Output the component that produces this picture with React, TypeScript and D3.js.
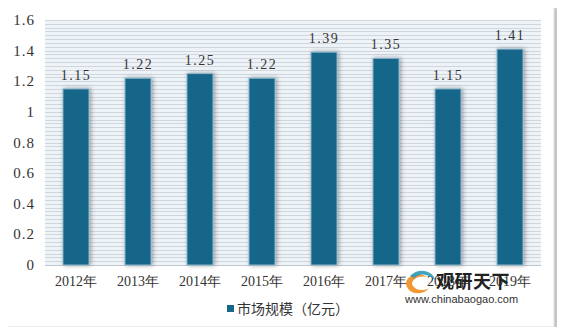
import { useEffect, useRef } from 'react';
import * as d3 from 'd3';

const years = ['2012年', '2013年', '2014年', '2015年', '2016年', '2017年', '2018年', '2019年'];
const marketSize = [1.15, 1.22, 1.25, 1.22, 1.39, 1.35, 1.15, 1.41];
const yTicks = [0, 0.2, 0.4, 0.6, 0.8, 1, 1.2, 1.4, 1.6];
const seriesName = '市场规模（亿元）';

const W = 565;
const H = 335;
const BAR = '#18668a';
const SERIF = '"Liberation Serif", "DejaVu Serif", serif';
const CJK = '"Noto Sans CJK SC", "Noto Sans", sans-serif';

export default function App() {
  const ref = useRef<SVGSVGElement>(null);

  useEffect(() => {
    if (!ref.current) return;
    const svg = d3.select(ref.current);
    svg.selectAll('*').remove();

    const defs = svg.append('defs');
    const sh = defs.append('filter').attr('id', 'panelShadow').attr('x', '-5%').attr('y', '-5%').attr('width', '110%').attr('height', '110%');
    sh.append('feDropShadow').attr('dx', 3).attr('dy', 3).attr('stdDeviation', 2.5).attr('flood-color', '#000').attr('flood-opacity', 0.25);
    const bs = defs.append('filter').attr('id', 'barShadow').attr('x', '-30%').attr('y', '-10%').attr('width', '160%').attr('height', '120%');
    bs.append('feDropShadow').attr('dx', 1.5).attr('dy', 0).attr('stdDeviation', 2).attr('flood-color', '#000').attr('flood-opacity', 0.35);

    svg.append('rect').attr('width', W).attr('height', H).attr('fill', '#eeeeee');
    svg.append('rect').attr('x', 5).attr('y', 4).attr('width', 549).attr('height', 323)
      .attr('fill', '#ffffff').attr('stroke', '#dcdcdc').attr('filter', 'url(#panelShadow)');

    const left = 45, right = 541, top = 20, bottom = 265;
    const x = d3.scaleBand<string>().domain(years).range([left, right]).paddingInner(0.58).paddingOuter(0.29);
    const y = d3.scaleLinear().domain([0, 1.6]).range([bottom, top]);

    // plot background with fine stripes
    svg.append('rect').attr('x', left).attr('y', top).attr('width', right - left).attr('height', bottom - top).attr('fill', '#eef3f8');
    const minor = d3.range(0, 1.6001, 0.025);
    svg.append('g').selectAll('line').data(minor).join('line')
      .attr('x1', left).attr('x2', right)
      .attr('y1', (d) => Math.round(y(d)) + 0.5).attr('y2', (d) => Math.round(y(d)) + 0.5)
      .attr('stroke', '#cfd6de').attr('stroke-width', 1);
    svg.append('line').attr('x1', left).attr('x2', right).attr('y1', bottom + 0.5).attr('y2', bottom + 0.5).attr('stroke', '#bfc6ce');

    // y tick labels
    svg.append('g').selectAll('text').data(yTicks).join('text')
      .attr('x', 35).attr('y', (d) => y(d) + 5)
      .attr('text-anchor', 'end').attr('font-family', SERIF).attr('font-size', 15).attr('fill', '#333')
      .attr('letter-spacing', 1)
      .text((d) => d3.format('~g')(d));

    // bars
    const data = years.map((yr, i) => ({ yr, v: marketSize[i] }));
    svg.append('g').selectAll('rect').data(data).join('rect')
      .attr('x', (d) => x(d.yr)!).attr('width', x.bandwidth())
      .attr('y', (d) => y(d.v)).attr('height', (d) => bottom - y(d.v))
      .attr('fill', BAR).attr('stroke', '#8fb8cc').attr('stroke-width', 1)
      .attr('filter', 'url(#barShadow)');

    // value labels
    svg.append('g').selectAll('text').data(data).join('text')
      .attr('x', (d) => x(d.yr)! + x.bandwidth() / 2).attr('y', (d) => y(d.v) - 9)
      .attr('text-anchor', 'middle').attr('font-family', SERIF).attr('font-size', 14).attr('fill', '#333')
      .attr('letter-spacing', 1.5)
      .text((d) => d3.format('.2f')(d.v));

    // x labels
    svg.append('g').selectAll('text').data(years).join('text')
      .attr('x', (d) => x(d)! + x.bandwidth() / 2).attr('y', 286)
      .attr('text-anchor', 'middle').attr('font-family', SERIF).attr('font-size', 14).attr('fill', '#333')
      .text((d) => d);

    // legend
    const lg = svg.append('g').attr('transform', 'translate(227,309)');
    lg.append('rect').attr('x', 0).attr('y', -4).attr('width', 7).attr('height', 7).attr('fill', BAR);
    lg.append('text').attr('x', 10).attr('y', 5).attr('font-family', CJK).attr('font-size', 14).attr('fill', '#333').text(seriesName);

    // watermark
    const wm = svg.append('g').attr('transform', 'translate(405,272)');
    wm.append('path').attr('d', 'M1,12 C1,3 14,-1 22,5 C14,3 7,7 7,12 C9,18 18,20 24,16 C18,24 3,23 1,12 Z').attr('fill', '#f08c1e').attr('opacity', 0.9);
    wm.append('path').attr('d', 'M5,4 C13,-5 28,-2 30,8 C24,2 15,0 9,6 Z').attr('fill', '#2a9bb8').attr('opacity', 0.9);
    wm.append('text').attr('x', 31).attr('y', 16).attr('font-family', CJK).attr('font-weight', 700).attr('font-size', 18)
      .attr('fill', '#222').attr('letter-spacing', 0.5).text('观研天下');
    wm.append('text').attr('x', 0).attr('y', 31).attr('font-family', '"Liberation Sans", Arial, sans-serif').attr('font-size', 11)
      .attr('fill', '#333').text('www.chinabaogao.com');
  }, []);

  return (
    <div style={{ margin: -8 }}>
      <svg ref={ref} width={W} height={H} style={{ display: 'block' }} />
    </div>
  );
}
